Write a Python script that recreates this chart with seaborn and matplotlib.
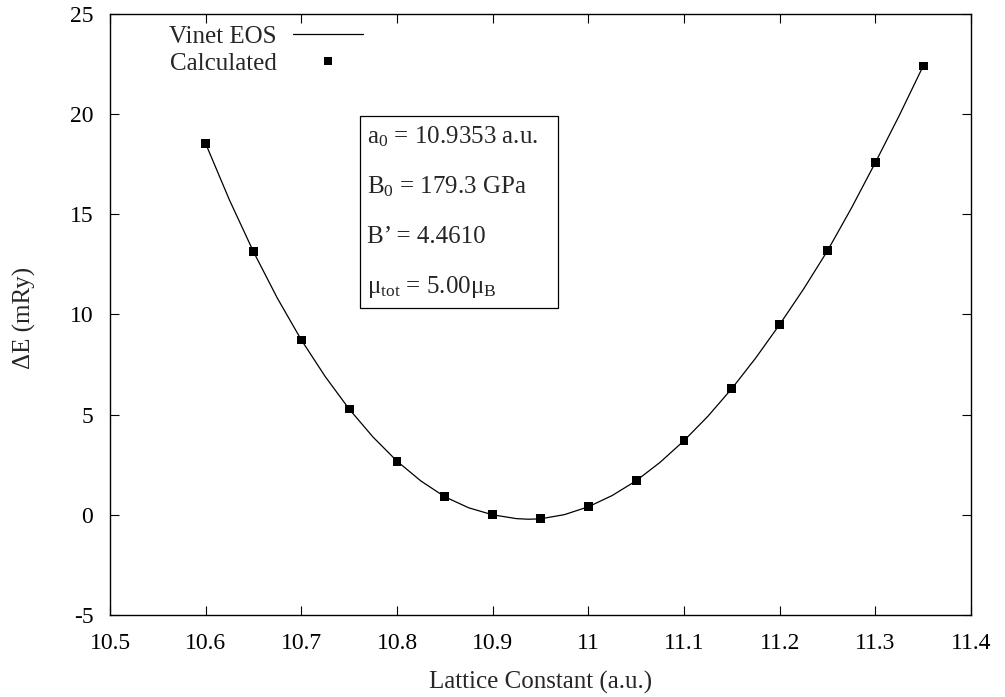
import matplotlib
matplotlib.use("Agg")
import matplotlib.pyplot as plt
import seaborn as sns
import pandas as pd
from matplotlib.lines import Line2D
from matplotlib.patches import Rectangle

# ---- data ----
lattice = [10.60, 10.65, 10.70, 10.75, 10.80, 10.85, 10.90, 10.95,
           11.00, 11.05, 11.10, 11.15, 11.20, 11.25, 11.30, 11.35]
energy = [18.53, 13.13, 8.73, 5.28, 2.68, 0.90, 0.00, -0.20,
          0.40, 1.70, 3.70, 6.30, 9.50, 13.18, 17.58, 22.40]

# Vinet EOS curve (every 0.025 a.u.)
curve_x = [10.600, 10.625, 10.650, 10.675, 10.700, 10.725, 10.750, 10.775,
           10.800, 10.825, 10.850, 10.875, 10.900, 10.925, 10.9375, 10.950,
           10.975, 11.000, 11.025, 11.050, 11.075, 11.100, 11.125, 11.150,
           11.175, 11.200, 11.225, 11.250, 11.275, 11.300, 11.325, 11.350]
curve_y = [18.53, 15.70, 13.13, 10.81, 8.73, 6.90, 5.28, 3.88,
           2.68, 1.69, 0.90, 0.35, 0.00, -0.19, -0.22, -0.20,
           0.01, 0.40, 0.965, 1.70, 2.62, 3.70, 4.92, 6.30,
           7.83, 9.50, 11.27, 13.18, 15.31, 17.58, 19.93, 22.40]

x_ticks = [10.5, 10.6, 10.7, 10.8, 10.9, 11.0, 11.1, 11.2, 11.3, 11.4]
x_tick_labels = ["10.5", "10.6", "10.7", "10.8", "10.9", "11", "11.1", "11.2", "11.3", "11.4"]
y_ticks = [-5, 0, 5, 10, 15, 20, 25]

fit_lines = ["a$_0$ = 10.9353 a.u.",
             "B$_0$ = 179.3 GPa",
             "B\u2019 = 4.4610",
             "\u03bc$_\\mathrm{tot}$ = 5.00\u03bc$_\\mathrm{B}$"]

sns.set_style("ticks")
plt.rcParams["font.family"] = ["Liberation Serif", "DejaVu Serif"]
plt.rcParams["mathtext.fontset"] = "custom"
plt.rcParams["mathtext.rm"] = "Liberation Serif"
plt.rcParams["mathtext.it"] = "Liberation Serif:italic"
plt.rcParams["mathtext.bf"] = "Liberation Serif:bold"
plt.rcParams["axes.unicode_minus"] = False

FS = 18
TFS = 17

fig = plt.figure(figsize=(10.05, 6.97), dpi=100)
ax = fig.add_axes([0.10945, 0.11765, 0.8567, 0.86227])

curve_df = pd.DataFrame({"a": curve_x, "E": curve_y})
pts_df = pd.DataFrame({"a": lattice, "E": energy})

sns.lineplot(data=curve_df, x="a", y="E", ax=ax, color="black", lw=0.9,
             sort=False, estimator=None)
sns.scatterplot(data=pts_df, x="a", y="E", ax=ax, marker="s", s=40,
                color="black", edgecolor="none", linewidth=0, zorder=3)

ax.set_xlim(10.5, 11.4)
ax.set_ylim(-5, 25)
ax.set_xticks(x_ticks)
ax.set_xticklabels(x_tick_labels)
ax.set_yticks(y_ticks)
ax.tick_params(axis="both", direction="in", length=6.5, width=0.8,
               top=True, right=True, labelsize=TFS, colors="black")
ax.tick_params(axis="x", pad=13)
ax.tick_params(axis="y", pad=12)
for sp in ax.spines.values():
    sp.set_visible(True)
    sp.set_linewidth(1.0)
    sp.set_color("black")

ax.set_xlabel("Lattice Constant (a.u.)", fontsize=FS)
ax.set_ylabel("\u0394E (mRy)", fontsize=FS)
ax.xaxis.set_label_coords(0.5, -0.112)
ax.xaxis.label.set_va("center")
ax.yaxis.set_label_coords(-0.099, 0.495)
ax.yaxis.label.set_va("center")
ax.yaxis.label.set_ha("center")

# legend (gnuplot style: text then sample)
handles = [Line2D([], [], color="black", lw=0.9),
           Line2D([], [], color="black", marker="s", ls="none", markersize=6.2,
                  markeredgewidth=0)]
ax.legend(handles, ["Vinet EOS", "Calculated"], loc="upper right",
          bbox_to_anchor=(0.2938, 0.981), frameon=False, markerfirst=False,
          fontsize=FS, handlelength=2.8, handletextpad=0.64,
          labelspacing=0.17, borderpad=0, borderaxespad=0)

# fit parameter box
ax.add_patch(Rectangle((0.2904, 0.5108), 0.2299, 0.3195, transform=ax.transAxes,
                       fill=False, edgecolor="black", lw=0.9, zorder=4))
for yb, txt in zip([0.785, 0.7018, 0.6186, 0.5354], fit_lines):
    ax.text(0.2985, yb, txt, transform=ax.transAxes, fontsize=FS,
            ha="left", va="baseline")

fig.savefig("out.png", dpi=100)
